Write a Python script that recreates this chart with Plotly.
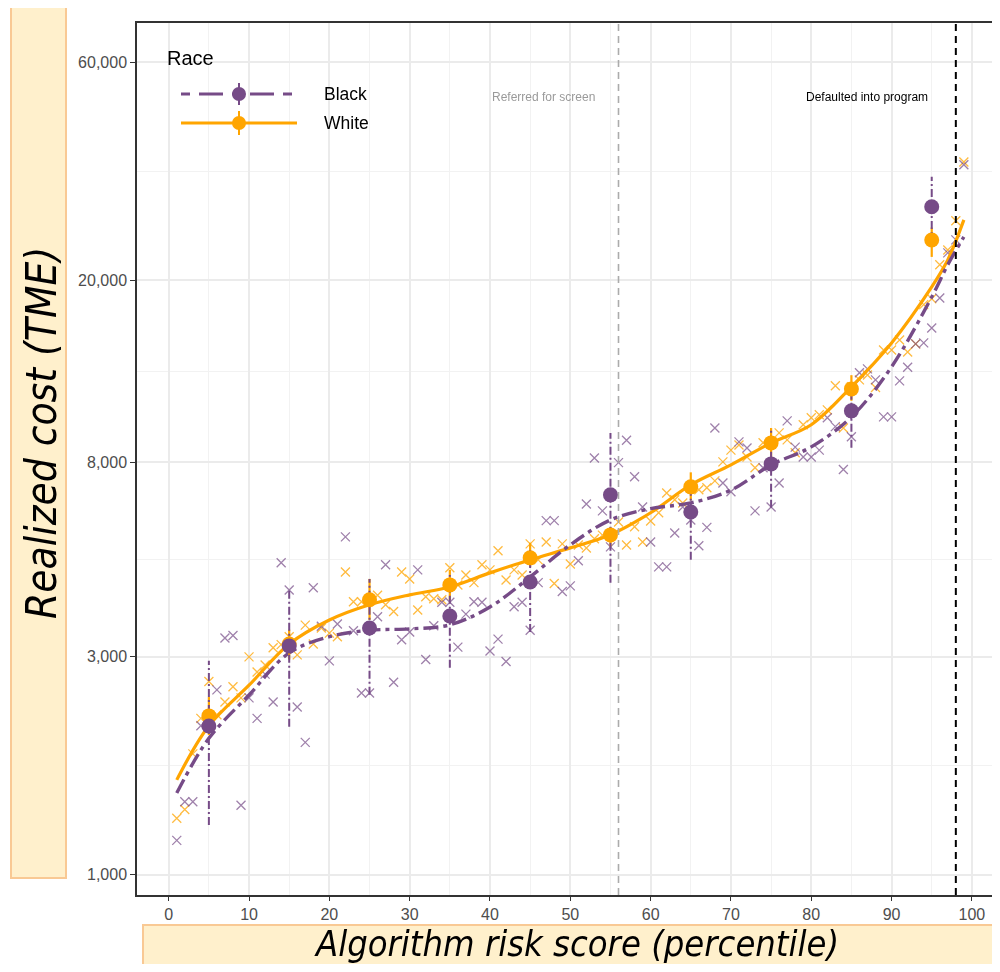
import plotly.graph_objects as go

# ---------------- data ----------------
percentile = list(range(1, 100))

black_cost = [1190, 1445, 1445, 2120, 2200, 2540, 3300, 3340, 1420, 2440,
              2200, 2750, 2390, 4820, 4200, 2330, 1950, 4250, 3500, 2940,
              3540, 5490, 3420, 2500, 2500, 3670, 4770, 2640, 3270, 3400,
              4650, 2960, 3510, 3950, 3950, 3150, 3720, 3960, 3950, 3090,
              3280, 2930, 3860, 3950, 3430, 4360, 5960, 5960, 4170, 4290,
              4870, 6480, 8170, 6260, 5220, 7980, 8930, 7430, 6380, 5350,
              4720, 4720, 5600, 6380, 5980, 5250, 5760, 9500, 7200, 6890,
              8860, 8590, 6260, 7780, 6380, 7200, 9850, 8630, 8210, 8210,
              8500, 10010, 9570, 7710, 9090, 12550, 12800, 12110, 10050, 10050,
              12050, 12900, 14520, 14590, 15730, 18300, 22960, 24520, 35800]

white_cost = [1330, 1390, 1840, 2200, 2650, 2240, 2390, 2580, 2440, 3000,
              2780, 2880, 3140, 3190, 3320, 3030, 3520, 3200, 3470, 3380,
              3320, 4600, 3960, 3960, 4000, 4090, 3900, 3770, 4600, 4440,
              3800, 4060, 4020, 4000, 4700, 4310, 4530, 4360, 4770, 4650,
              5120, 4420, 4650, 4530, 5300, 4890, 5350, 4340, 5300, 4790,
              5270, 5190, 5440, 5540, 5560, 5920, 5270, 5780, 5350, 5950,
              6200, 6850, 6620, 6510, 7060, 6960, 7030, 7280, 8010, 8500,
              8720, 8210, 7780, 8820, 8820, 9270, 8950, 8390, 9660, 10010,
              10160, 10410, 11760, 9500, 11700, 12110, 12410, 11650, 14080, 14080,
              14810, 13940, 14520, 17690, 18230, 21620, 23300, 26990, 36300]

decile_x = [5, 15, 25, 35, 45, 55, 65, 75, 85, 95]
black_mean = [2118, 3170, 3470, 3686, 4375, 6785, 6225, 7930, 10360, 28960]
black_lo = [1286, 2108, 2477, 2838, 3400, 4355, 4890, 6355, 8600, 23900]
black_hi = [2940, 4246, 4443, 4530, 5140, 9270, 7315, 9420, 11810, 33680]
white_mean = [2228, 3200, 4000, 4310, 4940, 5545, 7065, 8815, 11570, 24500]
white_lo = [2024, 2960, 3613, 3995, 4720, 5230, 6600, 8200, 10900, 22500]
white_hi = [2450, 3440, 4443, 4650, 5330, 5770, 7600, 9500, 12400, 26100]

smooth_x = [1, 5, 10, 15, 20, 25, 30, 35, 40, 45, 50, 55, 60, 65, 70, 75, 80, 85, 90, 95, 97, 99]
white_smooth = [1614, 2120, 2600, 3200, 3612, 3900, 4100, 4265, 4580, 4890, 5195, 5550,
                6200, 7135, 7890, 8815, 9660, 11690, 14590, 19350, 22170, 27110]
black_smooth = [1511, 1990, 2475, 3060, 3320, 3430, 3454, 3525, 3857, 4487, 5275, 5980,
                6330, 6515, 6950, 7890, 8640, 10050, 12930, 18390, 21630, 24890]

referred_threshold = 56
default_threshold = 98

x_ticks = list(range(0, 101, 10))
y_ticks = [1000, 3000, 8000, 20000, 60000]
y_ticklabels = ["1,000", "3,000", "8,000", "20,000", "60,000"]

# ---------------- style / layout ----------------
PURPLE = "#764B87"
ORANGE = "#FFA500"
OFF = 8                       # page body margin of the browser
W, H = 1000 - OFF, 972 - 2 * OFF
ML, MT = 137 - OFF, 23 - OFF  # plot area left / top (page pixels 137 / 23)
PW, PH = 863, 872
MR = W - ML - PW
MB = H - MT - PH


def fx(p):
    """page pixel x -> paper coordinate"""
    return (p - OFF - ML) / PW


def fy(p):
    """page pixel y -> paper coordinate"""
    return (MT + PH - (p - OFF)) / PH


def bars(xs, lo, hi):
    bx, by = [], []
    for x, a, b in zip(xs, lo, hi):
        bx += [x, x, None]
        by += [a, b, None]
    return bx, by


fig = go.Figure()

# percentile points
fig.add_trace(go.Scatter(x=percentile, y=white_cost, mode="markers", name="White pct",
                         marker=dict(symbol="x-thin", size=9, color=ORANGE,
                                     line=dict(color=ORANGE, width=1.3)),
                         opacity=0.75, showlegend=False))
fig.add_trace(go.Scatter(x=percentile, y=black_cost, mode="markers", name="Black pct",
                         marker=dict(symbol="x-thin", size=9, color=PURPLE,
                                     line=dict(color=PURPLE, width=1.3)),
                         opacity=0.7, showlegend=False))

# smoothed curves
fig.add_trace(go.Scatter(x=smooth_x, y=white_smooth, mode="lines", line_shape="spline",
                         line=dict(color=ORANGE, width=3.2), showlegend=False))
fig.add_trace(go.Scatter(x=smooth_x, y=black_smooth, mode="lines", line_shape="spline",
                         line=dict(color=PURPLE, width=3.4, dash="15px,5px,4px,5px"),
                         showlegend=False))

# error bars
wx, wy = bars(decile_x, white_lo, white_hi)
fig.add_trace(go.Scatter(x=wx, y=wy, mode="lines", line=dict(color=ORANGE, width=2.2),
                         showlegend=False, connectgaps=False))
bx, by = bars(decile_x, black_lo, black_hi)
fig.add_trace(go.Scatter(x=bx, y=by, mode="lines",
                         line=dict(color=PURPLE, width=2, dash="8px,3px,2px,3px"),
                         showlegend=False, connectgaps=False))

# decile means
fig.add_trace(go.Scatter(x=decile_x, y=white_mean, mode="markers",
                         marker=dict(size=15, color=ORANGE), showlegend=False))
fig.add_trace(go.Scatter(x=decile_x, y=black_mean, mode="markers",
                         marker=dict(size=15, color=PURPLE), showlegend=False))

# threshold lines
fig.add_vline(x=referred_threshold, line=dict(color="#ABABAB", width=1.6, dash="7px,5px"))
fig.add_vline(x=default_threshold, line=dict(color="black", width=2, dash="7px,5px"))

fig.add_annotation(x=46.6, y=4.702, xref="x", yref="y", text="Referred for screen",
                   showarrow=False, xanchor="center", yanchor="middle",
                   font=dict(family="Liberation Sans, Arial", size=12, color="#9A9A9A"))
fig.add_annotation(x=87.0, y=4.702, xref="x", yref="y", text="Defaulted into program",
                   showarrow=False, xanchor="center", yanchor="middle",
                   font=dict(family="Liberation Sans, Arial", size=12, color="black"))

shapes = []
# axis title boxes
shapes.append(dict(type="rect", xref="paper", yref="paper", x0=fx(11), x1=fx(66), y0=fy(878), y1=fy(4),
                   fillcolor="#FFF0CC", line=dict(color="#F9C994", width=2), layer="above"))
shapes.append(dict(type="rect", xref="paper", yref="paper", x0=fx(143), x1=fx(1004), y0=fy(990), y1=fy(925),
                   fillcolor="#FFF0CC", line=dict(color="#F9C994", width=2), layer="above"))

# manual legend
shapes.append(dict(type="rect", xref="paper", yref="paper", x0=fx(156), x1=fx(385), y0=fy(138), y1=fy(78),
                   fillcolor="white", line=dict(width=0), layer="between"))
shapes.append(dict(type="line", xref="paper", yref="paper", x0=fx(181), x1=fx(297), y0=fy(94), y1=fy(94),
                   line=dict(color=PURPLE, width=3.2, dash="9px,9px,24px,9px")))
shapes.append(dict(type="line", xref="paper", yref="paper", x0=fx(239), x1=fx(239), y0=fy(83), y1=fy(105),
                   line=dict(color=PURPLE, width=2)))
shapes.append(dict(type="circle", xref="paper", yref="paper", x0=fx(232), x1=fx(246), y0=fy(101), y1=fy(87),
                   fillcolor=PURPLE, line=dict(width=0)))
shapes.append(dict(type="line", xref="paper", yref="paper", x0=fx(181), x1=fx(297), y0=fy(123), y1=fy(123),
                   line=dict(color=ORANGE, width=3.2)))
shapes.append(dict(type="line", xref="paper", yref="paper", x0=fx(239), x1=fx(239), y0=fy(111), y1=fy(135),
                   line=dict(color=ORANGE, width=2)))
shapes.append(dict(type="circle", xref="paper", yref="paper", x0=fx(232), x1=fx(246), y0=fy(130), y1=fy(116),
                   fillcolor=ORANGE, line=dict(width=0)))
fig.update_layout(shapes=list(fig.layout.shapes) + shapes)

leg_font = dict(family="Liberation Sans, Arial", size=17.5, color="black")
fig.add_annotation(x=fx(165), y=fy(58), xref="paper", yref="paper", text="Race", showarrow=False,
                   xanchor="left", yanchor="middle", font=dict(family="Liberation Sans, Arial", size=20, color="black"))
fig.add_annotation(x=fx(322), y=fy(94), xref="paper", yref="paper", text="Black", showarrow=False,
                   xanchor="left", yanchor="middle", font=leg_font)
fig.add_annotation(x=fx(322), y=fy(123), xref="paper", yref="paper", text="White", showarrow=False,
                   xanchor="left", yanchor="middle", font=leg_font)

# axis titles
fig.add_annotation(x=fx(41), y=fy(433), xref="paper", yref="paper", text="<i>Realized cost (TME)</i>",
                   showarrow=False, textangle=-90, xanchor="center", yanchor="middle",
                   font=dict(family="DejaVu Sans Condensed, Arial", size=42, color="black"))
fig.add_annotation(x=fx(576), y=fy(943), xref="paper", yref="paper",
                   text="<i>Algorithm risk score (percentile)</i>", showarrow=False,
                   xanchor="center", yanchor="middle",
                   font=dict(family="DejaVu Sans Condensed, Arial", size=36, color="black"))

tick_font = dict(family="Liberation Sans, Arial", size=16, color="#4D4D4D")
fig.update_xaxes(range=[-3.95, 103.5], tickvals=x_ticks, ticks="outside", ticklen=4, tickcolor="#333333",
                 tickwidth=1.2, tickfont=tick_font, showgrid=True, gridcolor="#EBEBEB", gridwidth=1.5,
                 minor=dict(tickvals=[v + 5 for v in x_ticks[:-1]], showgrid=True, gridcolor="#F2F2F2",
                            gridwidth=1, ticks=""),
                 showline=True, linecolor="#333333", linewidth=1.5, mirror=True, zeroline=False,
                 automargin=False)
fig.update_yaxes(type="log", range=[2.956, 4.864], tickvals=y_ticks, ticktext=y_ticklabels,
                 ticks="outside", ticklen=5, tickcolor="#333333", tickwidth=1.2, tickfont=tick_font,
                 showgrid=True, gridcolor="#EBEBEB", gridwidth=1.5,
                 minor=dict(tickvals=[1732, 4899, 12649, 34641], showgrid=True, gridcolor="#F2F2F2",
                            gridwidth=1, ticks=""),
                 showline=True, linecolor="#333333", linewidth=1.5, zeroline=False, automargin=False)

fig.update_layout(width=W, height=H, margin=dict(l=ML, r=MR, t=MT, b=MB, pad=0),
                  plot_bgcolor="white", paper_bgcolor="white", showlegend=False)

fig.write_html("out.html")
